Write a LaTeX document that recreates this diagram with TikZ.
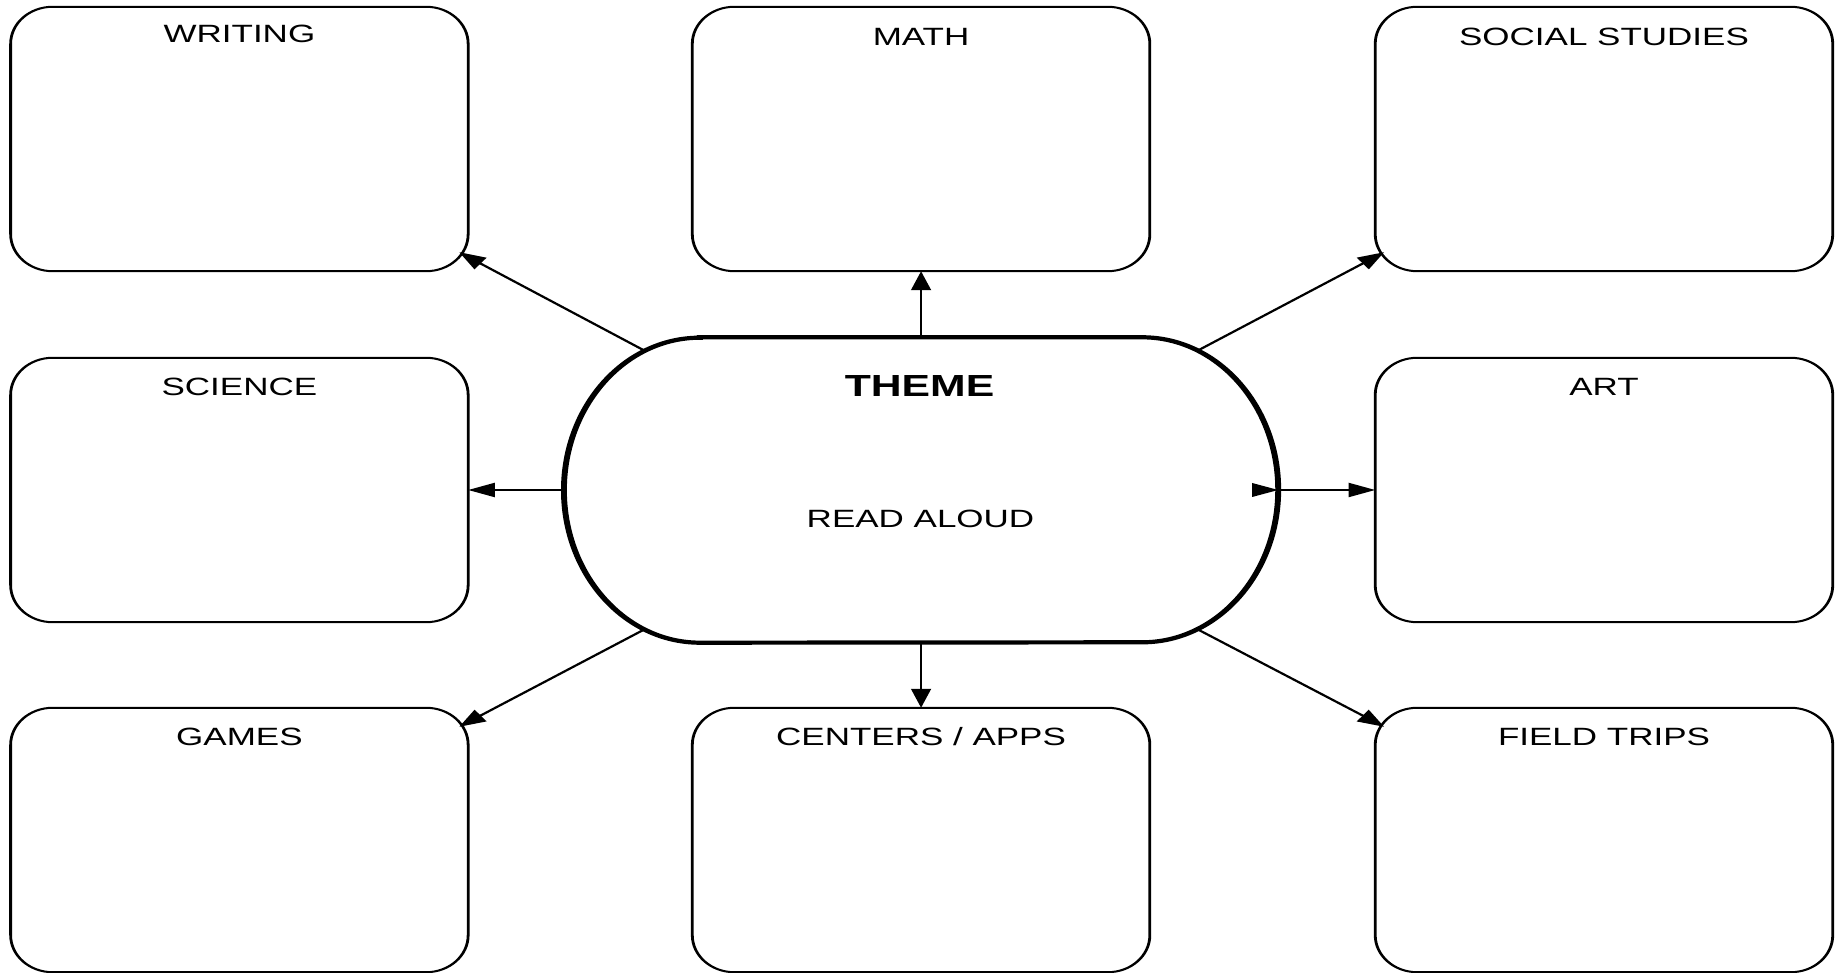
\documentclass[tikz,border=0pt]{standalone}
\usepackage{fontspec}
\setmainfont{Liberation Sans}
\usetikzlibrary{arrows.meta,calc}
\newcommand\roundedbox[1]{%
  \draw[boxline] ([xshift=30pt]#1.north west) -- ([xshift=-30pt]#1.north east)
    arc[start angle=90,end angle=0,x radius=30pt,y radius=37pt]
    -- ([yshift=37pt]#1.south east)
    arc[start angle=0,end angle=-90,x radius=30pt,y radius=37pt]
    -- ([xshift=30pt]#1.south west)
    arc[start angle=270,end angle=180,x radius=30pt,y radius=37pt]
    -- ([yshift=-37pt]#1.north west)
    arc[start angle=180,end angle=90,x radius=30pt,y radius=37pt] -- cycle;}
\begin{document}
\begin{tikzpicture}[x=1pt,y=1pt]
\fill[white] (0,0) rectangle (1839,972);
\useasboundingbox (0,0) rectangle (1839,972);
\begin{scope}[transform canvas={xscale=1.4},
  boxnode/.style={rectangle, inner sep=0pt, minimum width=326.4pt, minimum height=264pt},
  lbl/.style={anchor=base, inner sep=0pt, font=\fontsize{25pt}{30pt}\selectfont},
  boxline/.style={line width=2pt},
  conn/.style={line width=2pt, -{Triangle[length=19pt,width=14pt]}},
  themeline/.style={line width=4.2pt}]
% boxes
\node[boxnode] (writing) at (171,833) {};
\node[boxnode] (math)    at (657.9,833) {};
\node[boxnode] (social)  at (1145.7,833) {};
\node[boxnode] (science) at (171,482) {};
\node[boxnode] (art)     at (1145.7,482) {};
\node[boxnode] (games)   at (171,132) {};
\node[boxnode] (centers) at (657.9,132) {};
\node[boxnode] (field)   at (1145.7,132) {};
\roundedbox{writing}
\roundedbox{math}
\roundedbox{social}
\roundedbox{science}
\roundedbox{art}
\roundedbox{games}
\roundedbox{centers}
\roundedbox{field}
% labels
\node[lbl] (writingL) at ([yshift=-36pt]writing.north) {WRITING};
\node[lbl] (mathL)    at ([yshift=-39pt]math.north) {MATH};
\node[lbl] (socialL)  at ([yshift=-39pt]social.north) {SOCIAL STUDIES};
\node[lbl] (scienceL) at ([yshift=-38pt]science.north) {SCIENCE};
\node[lbl] (artL)     at ([yshift=-38pt]art.north) {ART};
\node[lbl] (gamesL)   at ([yshift=-38pt]games.north) {GAMES};
\node[lbl] (centersL) at ([yshift=-38pt]centers.north) {CENTERS / APPS};
\node[lbl] (fieldL)   at ([yshift=-38pt]field.north) {FIELD TRIPS};
% central theme shape
\node[rectangle, inner sep=0pt, minimum width=509.8pt, minimum height=305pt] (theme) at (657.9,482) {};
\coordinate (lc) at ($(theme.west)+(97.1,0)$);
\coordinate (rc) at ($(theme.east)+(-97.1,0)$);
\draw[themeline] ($(theme.north west)+(97.1,0)$) -- ($(theme.north east)+(-97.1,0)$)
  arc[start angle=90,end angle=-90,x radius=97.1pt,y radius=152.5pt]
  -- ($(theme.south west)+(97.1,0)$)
  arc[start angle=270,end angle=90,x radius=97.1pt,y radius=152.5pt] -- cycle;
\node[anchor=base, inner sep=0pt, font=\bfseries\fontsize{30.5pt}{36pt}\selectfont] (themeL) at (656.8,575) {THEME};
\node[lbl] (readL) at (657.5,444) {READ ALOUD};
% connector end points
\coordinate (wS) at ($(lc)+(114:97.1pt and 152.5pt)$);
\coordinate (gS) at ($(lc)+(246:97.1pt and 152.5pt)$);
\coordinate (sS) at ($(rc)+(66:97.1pt and 152.5pt)$);
\coordinate (fS) at ($(rc)+(294:97.1pt and 152.5pt)$);
\coordinate (wT) at ($(writing.south east)+(-6.4,19)$);
\coordinate (sT) at ($(social.south west)+(6.4,19)$);
\coordinate (gT) at ($(games.north east)+(-6.4,-19)$);
\coordinate (fT) at ($(field.north west)+(6.4,-19)$);
% connectors
\draw[conn] (wS) -- (wT);
\draw[conn] (theme.north) -- (math.south);
\draw[conn] (sS) -- (sT);
\draw[conn] (theme.west) -- (science.east);
\draw[conn] (theme.east) -- (art.west);
\draw[conn] (gS) -- (gT);
\draw[conn] (theme.south) -- (centers.north);
\draw[conn] (fS) -- (fT);
\fill ($(theme.east)+(-18.6,7)$) -- (theme.east) -- ($(theme.east)+(-18.6,-7)$) -- cycle;
\end{scope}
\end{tikzpicture}
\end{document}
